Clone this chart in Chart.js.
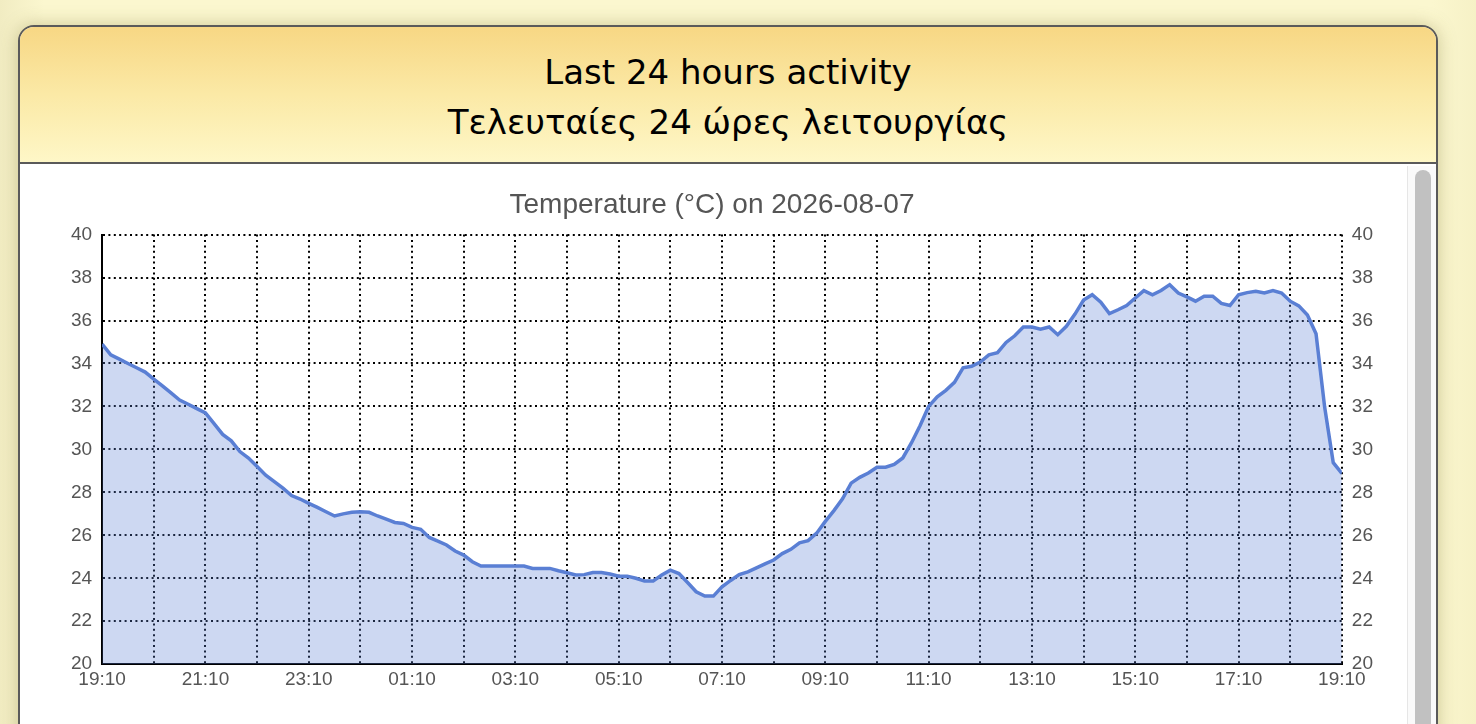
<!DOCTYPE html>
<html lang="en">
  <script src="https://cdn.jsdelivr.net/npm/chart.js"></script>
  <head>
    <meta charset="UTF-8">
    <title>Last 24 hours activity</title>
    <style>
      html, body {
        margin: 0;
        padding: 0;
        overflow: hidden;
      }
      body {
        font-family: "Liberation Sans", Arial, sans-serif;
        background: linear-gradient(to right, #f1ecc2 0%, #fbf7cf 3%, #fbf7cf 97%, #f6f1c6 100%);
        width: 1476px;
        height: 724px;
        position: relative;
      }
      .card {
        position: absolute;
        left: 18px;
        top: 25px;
        width: 1416px;
        height: 760px;
        border: 2px solid #5a5a5a;
        border-radius: 16px 16px 0 0;
        background: #fff;
        box-shadow: 0 0 18px rgba(120, 110, 40, 0.35);
        overflow: hidden;
      }
      .header {
        height: 137px;
        border-bottom: 2px solid #5a5a5a;
        background: linear-gradient(to bottom, #f7d784 0%, #fbe9a6 50%, #fef7c7 100%);
        text-align: center;
        color: #000;
        font-family: "DejaVu Sans", Verdana, sans-serif;
        font-size: 34px;
        line-height: 50px;
        padding-top: 20px;
        box-sizing: border-box;
      }
      .track {
        position: absolute;
        left: 1387px;
        top: 139px;
        width: 29px;
        height: 640px;
        background: #fafafa;
        border-left: 1px solid #e6e6e6;
      }
      .thumb {
        position: absolute;
        left: 7px;
        top: 4px;
        width: 16px;
        height: 620px;
        border-radius: 8px;
        background: #c1c1c1;
      }
      .chart-box {
        position: absolute;
        left: 21px;
        top: 161px;
        width: 1342px;
        height: 527px;
      }
    </style>
  </head>
  <body>
  <div class="card">
    <div class="header">Last 24 hours activity<br>Τελευταίες 24 ώρες λειτουργίας</div>
    <div class="chart-box"><canvas id="tempChart"></canvas></div>
    <div class="track"><div class="thumb"></div></div>
  </div>

  <script>
  // temperature every 10 minutes, 19:10 -> 19:10
  var temps = [
    34.9, 34.4, 34.2, 34.0, 33.8, 33.6, 33.27, 32.96, 32.63, 32.3,
    32.1, 31.9, 31.7, 31.2, 30.7, 30.4, 29.9, 29.6, 29.2, 28.8,
    28.5, 28.2, 27.85, 27.69, 27.49, 27.3, 27.1, 26.9, 27.0, 27.07,
    27.1, 27.07, 26.9, 26.75, 26.6, 26.55, 26.37, 26.28, 25.9, 25.73,
    25.55, 25.27, 25.08, 24.77, 24.57, 24.57, 24.57, 24.57, 24.57, 24.57,
    24.46, 24.46, 24.46, 24.35, 24.26, 24.15, 24.17, 24.27, 24.27, 24.2,
    24.1, 24.1, 24.0, 23.87, 23.87, 24.15, 24.38, 24.22, 23.8, 23.37,
    23.17, 23.17, 23.6, 23.9, 24.17, 24.3, 24.48, 24.67, 24.85, 25.15,
    25.35, 25.65, 25.75, 26.1, 26.65, 27.15, 27.7, 28.43, 28.7, 28.9,
    29.17, 29.17, 29.3, 29.6, 30.3, 31.1, 32.0, 32.45, 32.75, 33.12,
    33.8, 33.87, 34.07, 34.4, 34.5, 34.98, 35.29, 35.7, 35.7, 35.6,
    35.7, 35.34, 35.73, 36.3, 36.95, 37.2, 36.85, 36.32, 36.5, 36.7,
    37.05, 37.39, 37.2, 37.4, 37.67, 37.28, 37.1, 36.9, 37.13, 37.13,
    36.8, 36.7, 37.2, 37.3, 37.36, 37.28, 37.39, 37.28, 36.9, 36.68,
    36.26, 35.38, 31.97, 29.38, 28.88
  ];
  var stepMinutes = 10;

  // one grid line per hour, label every second hour
  var hourLabels = [
    '19:10', '', '21:10', '', '23:10', '', '01:10', '', '03:10', '', '05:10', '',
    '07:10', '', '09:10', '', '11:10', '', '13:10', '', '15:10', '', '17:10', '', '19:10'
  ];
  var yTicks = [20, 22, 24, 26, 28, 30, 32, 34, 36, 38, 40];

  var points = temps.map(function(t, i) {
    return { x: i * stepMinutes, y: t };
  });

  var tickFont = { family: '"Liberation Sans", Arial, sans-serif', size: 19 };
  var dotted = {
    color: '#000',
    lineWidth: 2,
    drawTicks: false
  };
  // in v4 border.dash is the dash of the grid lines, the border itself stays solid
  var axisBorder = { display: true, color: '#000', width: 2, dash: [2, 3.4] };

  var ctx = document.getElementById('tempChart').getContext('2d');
  var tempChart = new Chart(ctx, {
    type: 'line',
    data: {
      datasets: [{
        label: 'Temperature',
        data: points,
        borderColor: '#5a7fd4',
        backgroundColor: 'rgba(90, 127, 212, 0.30)',
        borderWidth: 3.5,
        fill: 'origin',
        pointRadius: 0,
        tension: 0,
        yAxisID: 'y'
      }]
    },
    options: {
      responsive: true,
      maintainAspectRatio: false,
      animation: false,
      plugins: {
        legend: { display: false },
        tooltip: { enabled: false },
        title: {
          display: true,
          text: 'Temperature (°C) on 2026-08-07',
          color: '#555',
          font: { family: '"Liberation Sans", Arial, sans-serif', size: 28, weight: 'normal' },
          padding: { top: 0, bottom: 13 }
        }
      },
      layout: { padding: { left: 0, right: 0, top: 0, bottom: 20 } },
      scales: {
        x: {
          type: 'linear',
          min: 0,
          max: (hourLabels.length - 1) * 60,
          z: 1,
          grid: dotted,
          border: axisBorder,
          afterBuildTicks: function(axis) {
            axis.ticks = hourLabels.map(function(l, i) { return { value: i * 60 }; });
          },
          ticks: {
            autoSkip: false,
            maxRotation: 0,
            color: '#555',
            font: tickFont,
            padding: 4,
            callback: function(v, i) { return hourLabels[i]; }
          }
        },
        y: {
          position: 'left',
          min: 20,
          max: 40,
          z: 1,
          grid: dotted,
          border: axisBorder,
          afterBuildTicks: function(axis) {
            axis.ticks = yTicks.map(function(v) { return { value: v }; });
          },
          afterFit: function(axis) {
            axis.width += 20;
          },
          ticks: { color: '#555', font: tickFont, padding: 10 }
        },
        y2: {
          position: 'right',
          min: 20,
          max: 40,
          grid: { display: false, drawTicks: false },
          border: { display: false },
          afterBuildTicks: function(axis) {
            axis.ticks = yTicks.map(function(v) { return { value: v }; });
          },
          ticks: { color: '#555', font: tickFont, padding: 10 }
        }
      }
    }
  });
  </script>
  </body>
</html>
